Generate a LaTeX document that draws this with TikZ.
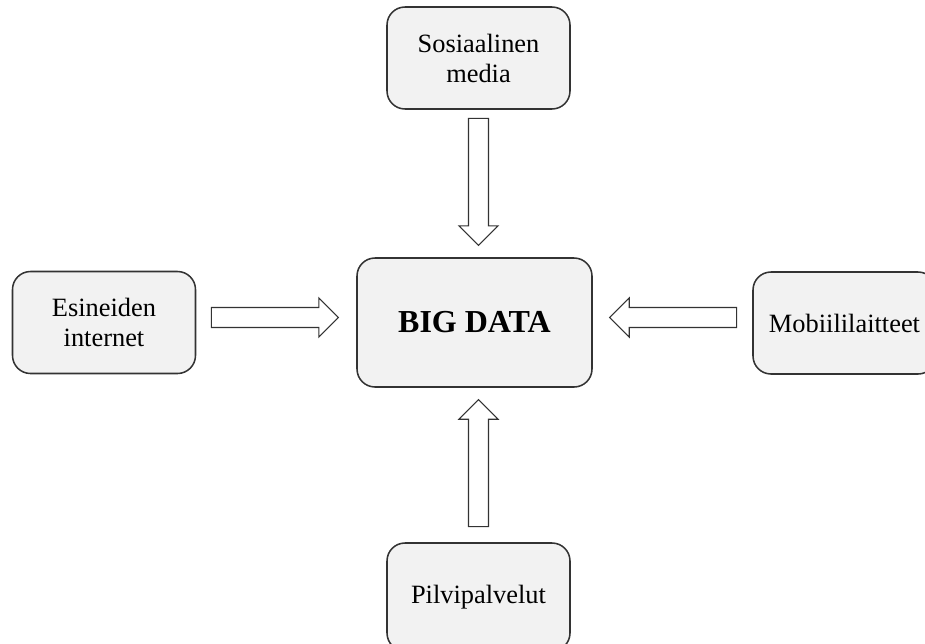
\documentclass[tikz,border=0pt]{standalone}
\usepackage{fontspec}
\setmainfont{Liberation Serif}
\usetikzlibrary{shapes.arrows,calc}
\definecolor{boxfill}{HTML}{F2F2F2}
\definecolor{edge}{HTML}{333333}
\begin{document}
\begin{tikzpicture}[x=0.75pt,y=-0.75pt,
  source/.style={draw=edge, fill=boxfill, line width=1.15pt, rounded corners=13.5pt,
    minimum width=137.25pt, minimum height=76.5pt, align=center, inner sep=0pt,
    font=\fontsize{19.8}{22.5}\selectfont},
  hub/.style={source, minimum width=176.25pt, minimum height=96.75pt,
    font=\fontsize{24}{28}\selectfont\bfseries},
  blockarrow/.style={single arrow, draw=edge, fill=white, line width=0.9pt,
    inner xsep=0pt, inner ysep=7.1pt, single arrow head extend=7.1pt,
    single arrow tip angle=90, minimum height=95.25pt, anchor=tip}
]
\useasboundingbox (0,0) rectangle (925,643);

% data sources around the hub
\node[source] (social) at (478.5,58)  {Sosiaalinen\\media};
\node[source] (iot)    at (104,322.5) {Esineiden\\internet};
\node[hub]    (big)    at (474.5,322.5) {BIG DATA};
\node[source] (mobile) at (844.5,323) {Mobiililaitteet};
\node[source, minimum height=81pt] (cloud) at (478.5,597) {Pilvipalvelut};

% block arrows pointing into the hub
\node[blockarrow, rotate=-90] (fromsocial) at ($(social.south |- big.north)+(0,-11)$) {};
\node[blockarrow]             (fromiot)    at ($(big.west)+(-17,-5)$) {};
\node[blockarrow, rotate=180] (frommobile) at ($(big.east)+(16,-5)$) {};
\node[blockarrow, rotate=90]  (fromcloud)  at ($(cloud.north |- big.south)+(0,11)$) {};
\end{tikzpicture}
\end{document}
